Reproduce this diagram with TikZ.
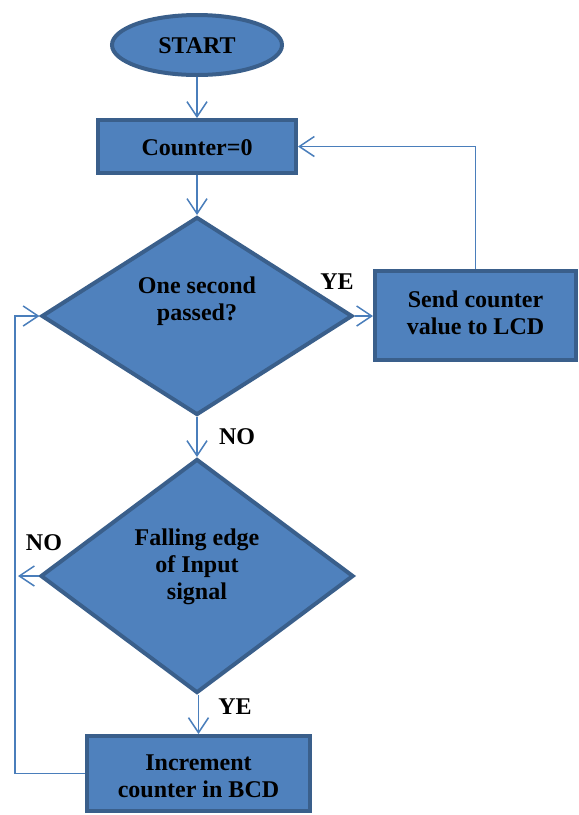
\documentclass[tikz,border=0pt]{standalone}
\usepackage{fontspec}
\setmainfont{Liberation Serif}
\usetikzlibrary{shapes.geometric,arrows.meta}
\definecolor{boxfill}{HTML}{4F81BD}
\definecolor{boxline}{HTML}{3A5F8B}
\definecolor{connline}{HTML}{4A7EBB}
\tikzset{
  shapebase/.style={fill=boxfill, draw=boxline, line width=4pt, inner sep=0pt},
  procbox/.style={shapebase, rectangle},
  termbox/.style={shapebase, ellipse},
  decbox/.style={shapebase, diamond},
  txt/.style={font=\fontsize{24}{27}\selectfont\bfseries, align=center, text=black, inner sep=0pt},
  conn/.style={draw=connline, line width=1.5pt, -{Straight Barb[length=15pt,width=20pt,line width=1.5pt]}},
  lbl/.style={font=\fontsize{24}{27}\selectfont\bfseries, text=black, inner sep=0pt}
}
\begin{document}
\begin{tikzpicture}[x=1pt,y=-1pt]
\useasboundingbox (0,0) rectangle (579,815);
% shapes
\node[termbox, minimum width=170pt, minimum height=60pt] (start) at (197,45) {};
\node[txt] (starttxt) at (197,46) {START};
\node[procbox, minimum width=198pt, minimum height=53pt] (cnt) at (197,146.5) {};
\node[txt] (cnttxt) at (197,148) {Counter=0};
\node[decbox, minimum width=311pt, minimum height=198pt] (d1) at (197,316) {};
\node[txt] (d1txt) at (197,301) {One second\\passed?};
\node[procbox, minimum width=201pt, minimum height=89pt] (send) at (475.5,315.5) {};
\node[txt] (sendtxt) at (475.5,313) {Send counter\\value to LCD};
\node[decbox, minimum width=313pt, minimum height=234pt] (d2) at (197,576) {};
\node[txt] (d2txt) at (197,567) {Falling edge\\of Input\\signal};
\node[procbox, minimum width=223pt, minimum height=75pt] (inc) at (198.5,773.5) {};
\node[txt] (inctxt) at (198.5,776) {Increment\\counter in BCD};
% labels
\node[lbl] (ye1) at (337,282) {YE};
\node[lbl] (no1) at (237,437) {NO};
\node[lbl] (no2) at (44,543) {NO};
\node[lbl] (ye2) at (235,707) {YE};
% helper coordinates
\coordinate (lx) at (15,0);
\coordinate (noend) at (18,576);
% connectors
\draw[conn] (start) -- (cnt);
\draw[conn] (cnt) -- (d1);
\draw[conn] (d1.east) -- (send.west |- d1.east);
\draw[conn] (send.north) |- (cnt.east);
\draw[conn] (d1.south) -- (d2.north);
\draw[conn] (d2.west) -- (noend);
\draw[conn] (d2.south -| inc.north) -- (inc.north);
\draw[conn] (inc.west) -- (inc.west -| lx) |- (d1.west);
\end{tikzpicture}
\end{document}
